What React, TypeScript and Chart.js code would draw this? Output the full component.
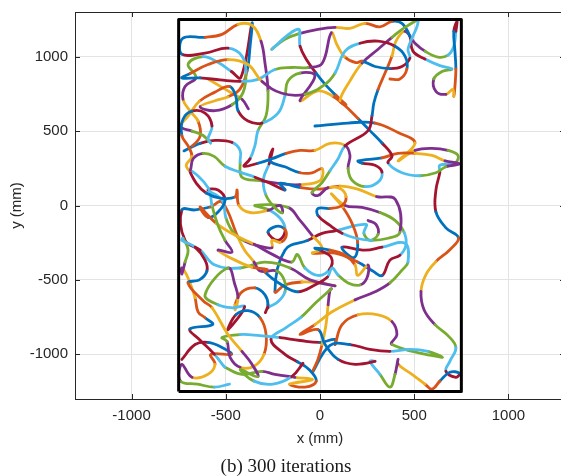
import React, { useEffect, useRef } from 'react';
import { Chart, registerables } from 'chart.js';

Chart.register(...registerables);

const X_TICKS = [-1000, -500, 0, 500, 1000];
const Y_TICKS = [-1000, -500, 0, 500, 1000];
const X_MIN = -1300;
const X_MAX = 1300;
const Y_MIN = -1300;
const Y_MAX = 1300;
const X_TITLE = 'x (mm)';
const Y_TITLE = 'y (mm)';
const CAPTION = '(b) 300 iterations';

const BOUNDARY = [[-750, -1250], [-750, 1250], [750, 1250], [750, -1250], [-750, -1250]];

const PALETTE = ['#0072BD', '#D95319', '#EDB120', '#7E2F8E', '#77AC30', '#4DBEEE', '#A2142F'];

// trajectory pieces (mm)
const T1 = [[-727,1124],[-610,1130],[-520,1150],[-435,1217],[-361,1210],[-313,1104],[-292,957],[-276,770],[-286,604],[-329,503]];
const T2 = [[-733,1017],[-610,1024],[-488,1057],[-414,1004],[-393,890],[-409,757],[-467,677],[-557,637]];
const T3 = [[-689,887],[-594,947],[-488,980],[-382,947],[-308,834],[-202,754],[-80,747],[27,814]];
const T4 = [[-733,857],[-636,857],[-530,844],[-424,834],[-329,847],[-239,914],[-149,927],[-64,927],[11,954]];
const T5 = [[-658,860],[-716,800],[-727,714],[-689,634],[-647,567],[-636,467],[-678,400],[-721,367]];
const T6 = [[-361,1224],[-371,1070],[-387,904],[-424,784],[-488,730],[-557,704],[-636,664]];
const T7 = [[-446,730],[-435,637],[-382,567],[-308,554],[-223,620],[-186,737],[-170,837],[-106,890],[-27,870]];
const T8 = [[-255,1050],[-186,1117],[-106,1157],[-11,1184],[80,1197],[159,1190],[239,1224],[318,1200],[382,1237],[435,1224],[477,1137],[493,1037]];
const T9 = [[-117,1184],[-106,1070],[-74,984],[-21,890],[32,807],[85,740],[138,677]];
const T10 = [[80,890],[133,1037],[212,1090],[308,1104],[398,1070],[451,1004],[461,917],[424,850],[371,850]];
const T11 = [[106,704],[159,837],[223,957],[308,1050],[382,1130],[451,1197],[520,1237]];
const T12 = [[223,970],[292,934],[371,920],[435,934],[477,990],[467,1050]];
const T13 = [[451,1170],[504,1090],[557,1037],[626,997],[679,1010],[710,1070],[721,1170],[727,1237]];
const T14 = [[710,1170],[716,1037],[721,917],[716,800],[710,734]];
const T15 = [[557,984],[636,940],[700,917],[647,900],[604,850],[615,767],[668,747],[705,780]];
const T16 = [[403,1104],[382,1004],[345,890],[308,780],[286,690],[276,604],[255,503]];
const T17 = [[-106,704],[-11,770],[64,737],[133,670],[202,584],[265,503],[329,420],[382,334]];
const T18 = [[-27,534],[149,554],[292,554],[414,490],[504,420]];

const M1 = [[-689,237],[-673,314],[-620,350],[-562,330],[-504,264],[-424,224],[-345,190],[-265,150],[-186,104]];
const M2 = [[-636,417],[-557,437],[-467,424],[-424,370],[-424,290]];
const M3 = [[-329,503],[-345,404],[-371,314],[-403,264],[-329,284],[-255,314],[-180,350],[-106,370]];
const M4 = [[-689,237],[-657,150],[-604,84],[-530,50],[-451,57]];
const M5 = [[-440,104],[-430,0],[-371,-47],[-276,-33],[-212,0]];
const M6 = [[-594,104],[-541,104],[-504,37],[-541,-44],[-594,-80]];
const M7 = [[-733,-30],[-663,-30],[-583,-10],[-520,23]];
const M8 = [[-520,37],[-499,-83],[-462,-177],[-403,-237],[-329,-270],[-255,-284]];
const M9 = [[-594,120],[-573,0],[-541,-134],[-504,-234],[-467,-314]];
const M10 = [[-345,0],[-265,-33],[-202,-100],[-186,-180],[-223,-234]];
const M11 = [[-276,-180],[-233,-140],[-191,-154],[-180,-207],[-212,-247],[-255,-234]];
const M12 = [[-170,-13],[-106,-100],[-42,-200],[11,-287]];
const M13 = [[-414,190],[-318,167],[-212,147],[-106,140],[0,167]];
const M14 = [[-265,300],[-186,260],[-106,220],[-42,220],[11,247]];

const N1 = [[-27,370],[53,417],[133,404],[159,337],[149,250],[170,170],[239,127],[308,157],[329,224],[292,270],[223,284]];
const N2 = [[202,300],[329,320],[414,350],[504,350],[594,337],[663,300],[740,280]];
const N3 = [[414,300],[504,370],[594,384],[679,370],[732,337],[716,284],[636,270]];
const N4 = [[361,287],[435,220],[530,200],[615,220],[668,260]];
const N5 = [[133,0],[223,-13],[318,-47],[398,-100],[446,-180],[456,-267],[424,-334],[371,-367]];
const N6 = [[255,-100],[297,-127],[308,-194],[265,-234],[233,-187],[244,-127]];
const N7 = [[-11,-67],[53,-134],[117,-187],[191,-220],[276,-234],[361,-220],[424,-180]];
const N10 = [[-11,67],[43,120],[106,114],[138,60],[117,0],[53,-20],[-11,-20]];
const N11 = [[133,400],[96,314],[53,234],[11,154],[-42,87]];
const N12 = [[-27,-287],[53,-300],[133,-334],[186,-400],[200,-470]];
const N13 = [[117,-280],[239,-300],[329,-280],[451,-254]];
const N14 = [[-40,-320],[80,-320],[200,-380],[280,-440],[330,-470]];

const R1 = [[636,224],[615,104],[615,-43],[668,-150],[735,-217],[689,-297],[615,-377],[562,-464],[536,-577],[552,-700],[610,-800],[679,-874],[721,-954],[689,-1047],[668,-1114],[721,-1154],[740,-1127]];

const B1 = [[-488,-834],[-446,-734],[-382,-707],[-318,-754],[-286,-867],[-297,-1000],[-350,-1080],[-424,-1087],[-477,-1020],[-493,-914]];
const B2 = [[-520,-887],[-424,-867],[-318,-874],[-212,-887],[-106,-907],[0,-920],[80,-900]];
const B3 = [[-106,-867],[-27,-800],[64,-714],[186,-634],[292,-580],[371,-520],[435,-434],[467,-380]];
const B4 = [[80,-934],[117,-800],[202,-734],[308,-734],[382,-780],[408,-867],[382,-934]];
const B5 = [[53,-940],[159,-934],[265,-967],[371,-980],[477,-967],[573,-980],[647,-1020]];
const B6 = [[265,-1047],[318,-1134],[371,-1220],[398,-1134],[414,-1034]];
const B7 = [[414,-1067],[488,-1134],[557,-1200],[594,-1234],[636,-1180],[689,-1120]];
const B9 = [[-11,-834],[27,-934],[96,-1034],[186,-1067],[292,-1047]];
const B10 = [[53,-567],[43,-667],[32,-800],[11,-934],[-11,-1034],[-40,-1120]];
const B11 = [[255,-400],[249,-487],[212,-534],[149,-520],[96,-467],[64,-420]];
const B12 = [[-733,-420],[-700,-487],[-663,-620],[-647,-714],[-610,-754],[-570,-800]];
const B13 = [[-451,-667],[-414,-580],[-345,-554],[-292,-600],[-276,-667],[-290,-720]];
const B14 = [[-610,-600],[-541,-667],[-467,-687],[-400,-680]];
const B15 = [[-620,-640],[-573,-687],[-488,-867],[-414,-980],[-361,-1067],[-330,-1150]];
const B16 = [[-733,-1034],[-663,-934],[-594,-920],[-520,-954],[-470,-1000]];
const B17 = [[-733,-1067],[-679,-1154],[-594,-1134],[-557,-1067],[-580,-1000]];
const B18 = [[-504,-1087],[-414,-1134],[-308,-1114],[-239,-1134],[-133,-1154],[-40,-1170]];
const B19 = [[-276,-687],[-223,-647],[-186,-580],[-190,-500],[-230,-440]];
const B20 = [[-239,-580],[-186,-534],[-96,-514],[0,-520],[80,-540]];
const B21 = [[-292,-447],[-202,-534],[-117,-580],[-27,-534],[40,-480]];
const B22 = [[-488,-420],[-451,-534],[-435,-620],[-450,-700]];
const B23 = [[-733,-234],[-663,-280],[-610,-367],[-600,-440],[-640,-500],[-700,-520]];
const B24 = [[-727,-220],[-700,-300],[-716,-380],[-733,-460]];
const B25 = [[-435,-214],[-400,-300],[-350,-380],[-318,-440]];
const B26 = [[-541,-300],[-451,-367],[-361,-414],[-280,-430]];
const B28 = [[-186,-300],[-64,-234],[11,-187],[80,-170]];
const B29 = [[-186,-1000],[-120,-1050],[-60,-1100],[-20,-1180],[-80,-1220],[-160,-1200]];
const B30 = [[-740,-1180],[-650,-1200],[-560,-1220],[-480,-1200]];

const L1 = [[-733,470],[-700,400],[-680,330],[-710,270]];
const L2 = [[-733,520],[-680,500],[-620,470],[-580,420]];
const L3 = [[-727,580],[-679,634],[-610,620],[-573,534],[-594,447]];
const L4 = [[-594,850],[-467,754],[-414,714],[-380,650]];

const E1 = [[-716,-234],[-636,-300],[-557,-400],[-424,-420],[-292,-380],[-159,-420],[-53,-500]];
const E3 = [[-250,380],[-270,280],[-300,180],[-290,80],[-250,0],[-200,-50]];
const E4 = [[-120,-330],[-80,-420],[-10,-470],[50,-430],[60,-350],[0,-300]];
const E5 = [[-690,-830],[-640,-900],[-560,-1000],[-510,-1080]];
const E6 = [[-212,150],[-100,120],[0,110],[106,130],[200,110],[300,60],[400,40]];
const E7 = [[-636,-10],[-550,-120],[-450,-200],[-350,-260],[-250,-330],[-150,-380]];
const E8 = [[60,-560],[-20,-650],[-100,-750],[-180,-820],[-260,-900]];
const E9 = [[-740,540],[-700,600],[-640,700],[-560,760],[-480,800]];
const E10 = [[-700,950],[-620,1000],[-540,960],[-470,900],[-420,860]];
const E11 = [[-424,-1100],[-350,-1180],[-250,-1200],[-150,-1150],[-90,-1060]];
const E12 = [[60,80],[120,-10],[170,-120],[200,-250],[180,-350]];
const E13 = [[60,1160],[90,1080],[130,1000],[190,960]];

const PIECES = [
  T1, M3, N1, N4, R1, T2, T3, T4, T5, T6, T7, T8, T9, T10, T11, T12, T13, T14, T15, T16, T17, T18,
  M1, M2, M4, M5, M6, M7, M8, M9, M10, M11, M12, M13, M14,
  N2, N3, N5, N6, N7, N10, N11, N12, N13, N14,
  B1, B2, B3, B4, B5, B6, B7, B9, B10, B11, B12, B13, B14, B15, B16, B17, B18, B19, B20,
  B21, B22, B23, B24, B25, B26, B28, B29, B30,
  L1, L2, L3, L4,
  E1, E3, E4, E5, E6, E7, E8, E9, E10, E11, E12, E13,
];

// join pieces whose ends are close, so the trajectory reads as continuous strands
function joinPieces(pieces: number[][][], maxGapPx: number) {
  const d = (a: number[], b: number[]) => Math.hypot((a[0] - b[0]) * 0.188, (a[1] - b[1]) * 0.15);
  const rest = pieces.map((p) => p.slice());
  const chains: number[][][] = [];
  while (rest.length) {
    let chain = rest.shift() as number[][];
    for (let side = 0; side < 2; side++) {
      for (;;) {
        const tip = side === 0 ? chain[chain.length - 1] : chain[0];
        let best = -1;
        let bestRev = false;
        let bestD = Infinity;
        rest.forEach((p, i) => {
          const a = d(tip, p[0]);
          const b = d(tip, p[p.length - 1]);
          if (a < bestD) { bestD = a; best = i; bestRev = false; }
          if (b < bestD) { bestD = b; best = i; bestRev = true; }
        });
        if (best < 0 || bestD > maxGapPx) break;
        let p = rest.splice(best, 1)[0];
        if (side === 0) {
          if (bestRev) p = p.slice().reverse();
          if (bestD < 1) p = p.slice(1);
          chain = chain.concat(p);
        } else {
          if (!bestRev) p = p.slice().reverse();
          if (bestD < 1) p = p.slice(0, -1);
          chain = p.concat(chain);
        }
      }
    }
    chains.push(chain);
  }
  return chains;
}

const FONT = "'Liberation Sans', Arial, Helvetica, sans-serif";

const framePlugin = {
  id: 'frame',
  afterDatasetsDraw(chart: any) {
    const { ctx, chartArea, scales } = chart;
    const { left, right, top, bottom } = chartArea;
    ctx.save();
    ctx.strokeStyle = '#262626';
    ctx.lineWidth = 1;
    ctx.beginPath();
    ctx.moveTo(left, top + 0.5);
    ctx.lineTo(right, top + 0.5);
    X_TICKS.forEach((v) => {
      const px = Math.round(scales.x.getPixelForValue(v)) + 0.5;
      ctx.moveTo(px, top);
      ctx.lineTo(px, top + 5);
      ctx.moveTo(px, bottom);
      ctx.lineTo(px, bottom - 5);
    });
    Y_TICKS.forEach((v) => {
      const py = Math.round(scales.y.getPixelForValue(v)) + 0.5;
      ctx.moveTo(left, py);
      ctx.lineTo(left + 5, py);
      ctx.moveTo(right, py);
      ctx.lineTo(right - 5, py);
    });
    ctx.stroke();
    ctx.restore();
  },
};

export default function App() {
  const ref = useRef<HTMLCanvasElement | null>(null);

  useEffect(() => {
    if (!ref.current) return;
    const chains = joinPieces(PIECES, 60);
    const pathSets = chains.map((p, i) => {
      const offset = (i * 3) % PALETTE.length;
      return {
        data: p.map(([x, y]) => ({ x, y })),
        showLine: true,
        fill: false,
        pointRadius: 0,
        borderWidth: 2.8,
        tension: 0.4,
        borderCapStyle: 'round',
        borderJoinStyle: 'round',
        borderColor: PALETTE[offset],
        segment: {
          borderColor: (ctx: any) => PALETTE[(offset + Math.floor(Math.max(ctx.p0DataIndex, 0) / 2)) % PALETTE.length],
        },
      };
    });
    const chart = new Chart(ref.current, {
      type: 'scatter',
      data: {
        datasets: [
          {
            data: BOUNDARY.map(([x, y]) => ({ x, y })),
            showLine: true,
            fill: false,
            pointRadius: 0,
            borderWidth: 3,
            borderColor: '#000000',
            borderJoinStyle: 'round',
            tension: 0,
          },
          ...pathSets,
        ],
      } as any,
      options: {
        animation: false,
        responsive: false,
        maintainAspectRatio: false,
        events: [],
        layout: { padding: { left: 0, right: 10, top: 12, bottom: 25 } },
        plugins: { legend: { display: false }, tooltip: { enabled: false }, title: { display: false } },
        scales: {
          x: {
            type: 'linear',
            min: X_MIN,
            max: X_MAX,
            afterBuildTicks: (s: any) => { s.ticks = X_TICKS.map((v) => ({ value: v })); },
            afterFit: (s: any) => { s.height = 52; },
            grid: { color: '#e3e3e3', lineWidth: 1, drawTicks: false },
            border: { display: true, color: '#262626', width: 1 },
            ticks: { color: '#262626', padding: 8, font: { family: FONT, size: 15 }, maxRotation: 0, callback: (v: any) => String(v) },
            title: { display: true, text: X_TITLE, color: '#262626', font: { family: FONT, size: 15 }, padding: { top: 0, bottom: 3 } },
          },
          y: {
            type: 'linear',
            min: Y_MIN,
            max: Y_MAX,
            afterBuildTicks: (s: any) => { s.ticks = Y_TICKS.map((v) => ({ value: v })); },
            afterFit: (s: any) => { s.width = 75; },
            grid: { color: '#e3e3e3', lineWidth: 1, drawTicks: true, tickLength: 7, tickColor: 'rgba(0,0,0,0)' },
            border: { display: true, color: '#262626', width: 1 },
            ticks: { color: '#262626', padding: 0, font: { family: FONT, size: 15 }, callback: (v: any) => String(v) },
            title: { display: true, text: Y_TITLE, color: '#262626', font: { family: FONT, size: 15 }, padding: { top: 8, bottom: 0 } },
          },
        },
      } as any,
      plugins: [framePlugin],
    });
    return () => chart.destroy();
  }, []);

  return (
    <div style={{ position: 'fixed', left: 0, top: 0, width: 561, height: 476, overflow: 'hidden', background: '#ffffff' }}>
      <canvas ref={ref} width={575} height={476} style={{ width: 575, height: 476, display: 'block' }} />
      <div
        style={{
          position: 'absolute',
          left: 186,
          top: 456,
          width: 200,
          textAlign: 'center',
          fontFamily: "'Liberation Serif', 'Times New Roman', serif",
          fontSize: 19,
          lineHeight: '20px',
          color: '#1a1a1a',
          whiteSpace: 'nowrap',
        }}
      >
        {CAPTION}
      </div>
    </div>
  );
}
